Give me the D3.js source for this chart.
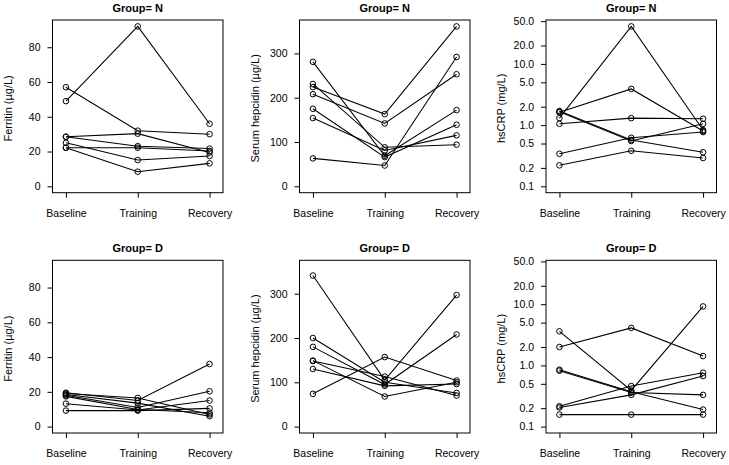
<!DOCTYPE html>
<html>
<head>
<meta charset="utf-8">
<script src="https://cdn.jsdelivr.net/npm/d3@7"></script>
<style>
  html, body { margin: 0; padding: 0; background: #fff; }
  svg { display: block; }
  text { font-family: "Liberation Sans", Arial, Helvetica, sans-serif; fill: #000; }
</style>
</head>
<body>
<script>
// ---------------- data ----------------
const categories = ["Baseline", "Training", "Recovery"];

// one triple per subject: [Baseline, Training, Recovery]
const ferritinN = [[49, 92, 36], [57, 32, 30], [28.5, 30.3, 19.5], [28.5, 23.1, 21.7], [25, 15.1, 17.4], [22.2, 22.2, 20.3], [22.2, 8.4, 13.2]];
const ferritinD = [[19.5, 15, 36], [19, 16.5, 7], [18.5, 13.5, 6], [18, 11, 20.3], [17.4, 9.8, 8], [13.2, 9.5, 15], [9.2, 9.2, 10.5]];

const hepcidinN = [[63, 47, 292], [224, 163, 361], [208, 142, 253], [281, 69, 172], [231, 88, 94], [175, 66, 139], [154, 81, 115]];
const hepcidinD = [[74, 157, 104], [341, 105, 297], [200, 100, 76], [180, 95, 208], [149, 68, 100], [148, 113, 70], [130, 92, 96]];

const crpN = [[1.3, 41, 0.83], [1.62, 3.9, 0.8], [1.05, 1.3, 1.27], [1.7, 0.57, 0.36], [1.65, 0.55, 1.05], [0.34, 0.62, 0.77], [0.22, 0.38, 0.29]];
const crpD = [[2.0, 4.1, 1.42], [3.6, 0.39, 9.2], [0.85, 0.37, 0.19], [0.82, 0.36, 0.33], [0.215, 0.46, 0.76], [0.205, 0.33, 0.67], [0.157, 0.157, 0.157]];

const ferritinLim = [0, 92];
const hepcidinLim = [0, 361];
const crpLim = [0.1, 41];

const ferritinTicks = [0, 20, 40, 60, 80];
const hepcidinTicks = [0, 100, 200, 300];
const crpTicks = [0.1, 0.2, 0.5, 1, 2, 5, 10, 20, 50];

const groupTitles = ["Group= N", "Group= D"];
const yLabels = ["Ferritin (\u00b5g/L)", "Serum hepcidin (\u00b5g/L)", "hsCRP (mg/L)"];

// ---------------- layout ----------------
const W = 729, H = 465;
const boxLefts = [52.5, 299.5, 546];
const boxW = 170.5;
const boxTops = [20, 260.3];
const boxH = 172.7;

const svg = d3.select("body").append("svg").attr("width", W).attr("height", H);

const panels = [
  { row: 0, col: 0, data: ferritinN, lim: ferritinLim, ticks: ferritinTicks, log: false },
  { row: 0, col: 1, data: hepcidinN, lim: hepcidinLim, ticks: hepcidinTicks, log: false },
  { row: 0, col: 2, data: crpN, lim: crpLim, ticks: crpTicks, log: true },
  { row: 1, col: 0, data: ferritinD, lim: ferritinLim, ticks: ferritinTicks, log: false },
  { row: 1, col: 1, data: hepcidinD, lim: hepcidinLim, ticks: hepcidinTicks, log: false },
  { row: 1, col: 2, data: crpD, lim: crpLim, ticks: crpTicks, log: true }
];

const FS = 10.5;

panels.forEach(p => {
  const L = boxLefts[p.col], T = boxTops[p.row];
  const R = L + boxW, B = T + boxH;
  const g = svg.append("g");

  const x = d3.scalePoint().domain(categories).range([L, R]).padding(0.187);

  let y;
  if (p.log) {
    const l0 = Math.log10(p.lim[0]), l1 = Math.log10(p.lim[1]);
    const d = l1 - l0;
    y = d3.scaleLog().domain([Math.pow(10, l0 - 0.04 * d), Math.pow(10, l1 + 0.04 * d)]).range([B, T]);
  } else {
    const d = p.lim[1] - p.lim[0];
    y = d3.scaleLinear().domain([p.lim[0] - 0.04 * d, p.lim[1] + 0.04 * d]).range([B, T]);
  }

  // y axis
  const yAxis = d3.axisLeft(y).tickValues(p.ticks).tickSizeInner(5).tickSizeOuter(0).tickPadding(7)
    .tickFormat(p.log ? d3.format(".1f") : d3.format("d"));
  const ya = g.append("g").attr("transform", `translate(${L},0)`).call(yAxis);
  ya.select(".domain").remove();
  ya.selectAll("text").style("font-size", FS + "px").style("font-family", '"Liberation Sans", Arial, sans-serif');
  ya.selectAll("line").attr("stroke", "#000");

  // x axis
  const xAxis = d3.axisBottom(x).tickSizeInner(5).tickSizeOuter(0).tickPadding(12);
  const xa = g.append("g").attr("transform", `translate(0,${B})`).call(xAxis);
  xa.select(".domain").remove();
  xa.selectAll("text").style("font-size", FS + "px").style("font-family", '"Liberation Sans", Arial, sans-serif');
  xa.selectAll("line").attr("stroke", "#000");

  // box
  g.append("rect").attr("x", L).attr("y", T).attr("width", boxW).attr("height", boxH)
    .attr("fill", "none").attr("stroke", "#000").attr("stroke-width", 1);

  // lines
  const line = d3.line().x((v, i) => x(categories[i])).y(v => y(v));
  g.selectAll("path.subj").data(p.data).enter().append("path")
    .attr("class", "subj").attr("d", line)
    .attr("fill", "none").attr("stroke", "#000").attr("stroke-width", 1.05);

  // points
  p.data.forEach(s => {
    g.selectAll(null).data(s).enter().append("circle")
      .attr("cx", (v, i) => x(categories[i])).attr("cy", v => y(v)).attr("r", 2.8)
      .attr("fill", "none").attr("stroke", "#000").attr("stroke-width", 1);
  });

  // title
  g.append("text").attr("x", (L + R) / 2).attr("y", T - 8).attr("text-anchor", "middle")
    .style("font-size", "11px").style("font-weight", "bold").text(groupTitles[p.row]);

  // y label
  g.append("text").attr("transform", `translate(${L - 41},${(T + B) / 2 + 2}) rotate(-90)`)
    .attr("text-anchor", "middle").style("font-size", "11px").text(yLabels[p.col]);
});
</script>
</body>
</html>
